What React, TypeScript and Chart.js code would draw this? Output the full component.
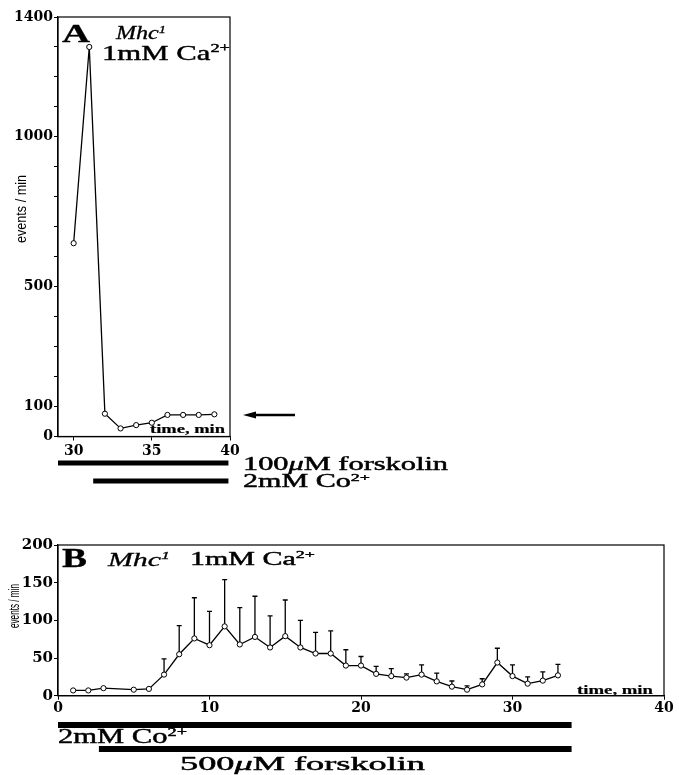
import React, { useEffect, useRef } from 'react';
import { Chart, registerables } from 'chart.js';

Chart.register(...registerables);

// ---------- Panel A data ----------
const A_TIME = [30, 31, 32, 33, 34, 35, 36, 37, 38, 39];
const A_EVENTS = [645, 1300, 76, 27, 38, 46, 72, 72, 72, 74];
const A_Y_TICKS = [0, 100, 200, 300, 400, 500, 600, 700, 800, 900, 1000, 1100, 1200, 1300, 1400];
const A_Y_LABELS = [0, 100, 500, 1000, 1400];
const A_X_TICKS = [30, 35, 40];
const A_ARROW_LEVEL = 72;
const A_FORSKOLIN = [29, 39.9];
const A_COBALT = [31.25, 39.9];

// ---------- Panel B data ----------
const B_TIME = [1, 2, 3, 5, 6, 7, 8, 9, 10, 11, 12, 13, 14, 15, 16, 17, 18, 19, 20, 21, 22, 23, 24, 25, 26, 27, 28, 29, 30, 31, 32, 33];
const B_EVENTS = [7, 7, 10, 8, 9, 28, 55, 76, 67, 92, 68, 78, 64, 79, 64, 56, 56, 40, 40, 29, 26, 24, 28, 19, 12, 8, 15, 44, 26, 16, 20, 27];
const B_SEM = [0, 0, 0, 0, 0, 21, 38, 54, 45, 62, 49, 54, 42, 48, 36, 28, 30, 21, 12, 10, 10, 5, 13, 11, 7.5, 5, 7.5, 19, 15, 9, 11.5, 14.5];
const B_Y_TICKS = [0, 50, 100, 150, 200];
const B_X_TICKS = [0, 10, 20, 30, 40];
const B_COBALT = [0, 33.9];
const B_FORSKOLIN = [2.7, 33.9];

const W = 679;
const H = 775;
const SERIF = 'DejaVu Serif';
const TEXT_SERIF = 'Liberation Serif';

type Seg = { t: string; italic?: boolean; bold?: boolean; sup?: boolean };

function drawRich(ctx: CanvasRenderingContext2D, segs: Seg[], x: number, baseline: number, size: number, targetW: number, heavy = 0.45) {
  const parts = segs.map((s) => {
    const fs = s.sup ? size * 0.6 : size;
    const font = `${s.italic ? 'italic ' : ''}${s.bold ? 'bold ' : ''}${fs}px "${TEXT_SERIF}", serif`;
    ctx.font = font;
    return { s, font, w: ctx.measureText(s.t).width, dy: s.sup ? -size * 0.36 : 0 };
  });
  const total = parts.reduce((a, p) => a + p.w, 0);
  const sx = targetW / total;
  ctx.save();
  ctx.translate(x, baseline);
  ctx.scale(sx, 1);
  ctx.textAlign = 'left';
  ctx.textBaseline = 'alphabetic';
  ctx.fillStyle = '#000';
  ctx.strokeStyle = '#000';
  ctx.lineWidth = heavy;
  ctx.lineJoin = 'round';
  let cx = 0;
  for (const p of parts) {
    ctx.font = p.font;
    ctx.fillText(p.s.t, cx, p.dy);
    if (heavy > 0) ctx.strokeText(p.s.t, cx, p.dy);
    cx += p.w;
  }
  ctx.restore();
}

function drawVerticalTitle(ctx: CanvasRenderingContext2D, text: string, cx: number, cy: number, size: number, length: number) {
  ctx.save();
  ctx.font = `${size}px "Liberation Sans Narrow", "Liberation Sans", sans-serif`;
  const w = ctx.measureText(text).width;
  ctx.translate(cx, cy);
  ctx.rotate(-Math.PI / 2);
  ctx.scale(length / w, 1);
  ctx.textAlign = 'center';
  ctx.textBaseline = 'middle';
  ctx.fillStyle = '#000';
  ctx.fillText(text, 0, 0);
  ctx.restore();
}

function drawRange(chart: any, range: number[], y: number, th: number) {
  const xs = chart.scales.x;
  const x1 = xs.getPixelForValue(range[0]);
  const x2 = xs.getPixelForValue(range[1]);
  chart.ctx.fillStyle = '#000';
  chart.ctx.fillRect(x1, y - th / 2, x2 - x1, th);
}

function frame(chart: any) {
  const { ctx, chartArea: a } = chart;
  ctx.save();
  ctx.strokeStyle = '#000';
  ctx.lineWidth = 1.2;
  ctx.strokeRect(a.left, a.top, a.right - a.left, a.bottom - a.top);
  ctx.restore();
}

const overlayA = {
  id: 'overlayA',
  afterDraw(chart: any) {
    const { ctx, chartArea: a } = chart;
    frame(chart);
    drawVerticalTitle(ctx, 'events / min', 22, 209, 15, 68);
    drawRich(ctx, [{ t: 'A', bold: true }], 62, 42, 25, 28, 0.3);
    drawRich(ctx, [{ t: 'Mhc', italic: true }, { t: '1', italic: true, sup: true }], 116, 39, 18, 50, 0.3);
    drawRich(ctx, [{ t: '1mM Ca' }, { t: '2+', sup: true }], 102, 60, 22, 128);
    drawRich(ctx, [{ t: 'time, min', bold: true }], 150, 433, 13, 75, 0.2);
    // arrow
    const ya = chart.scales.y.getPixelForValue(A_ARROW_LEVEL);
    const x0 = a.right + 13;
    const x1 = a.right + 65;
    ctx.save();
    ctx.fillStyle = '#000';
    ctx.strokeStyle = '#000';
    ctx.lineWidth = 2.5;
    ctx.beginPath();
    ctx.moveTo(x0 + 10, ya);
    ctx.lineTo(x1, ya);
    ctx.stroke();
    ctx.beginPath();
    ctx.moveTo(x0, ya);
    ctx.lineTo(x0 + 13, ya - 3.5);
    ctx.lineTo(x0 + 13, ya + 3.5);
    ctx.closePath();
    ctx.fill();
    ctx.restore();
    // treatment bars
    drawRange(chart, A_FORSKOLIN, a.bottom + 26.5, 5);
    drawRange(chart, A_COBALT, a.bottom + 44.5, 5);
    drawRich(ctx, [{ t: '100' }, { t: 'μ', italic: true }, { t: 'M forskolin' }], 243, 470, 18, 205);
    drawRich(ctx, [{ t: '2mM Co' }, { t: '2+', sup: true }], 243, 487, 18, 127);
  },
};

const errorBarsB = {
  id: 'errorBarsB',
  beforeDatasetsDraw(chart: any) {
    const { ctx } = chart;
    const xs = chart.scales.x;
    const ys = chart.scales.y;
    ctx.save();
    ctx.strokeStyle = '#000';
    ctx.lineWidth = 1.3;
    B_TIME.forEach((t, i) => {
      const e = B_SEM[i];
      if (!e) return;
      const px = xs.getPixelForValue(t);
      const py = ys.getPixelForValue(B_EVENTS[i]);
      const pt = ys.getPixelForValue(B_EVENTS[i] + e);
      ctx.beginPath();
      ctx.moveTo(px, py);
      ctx.lineTo(px, pt);
      ctx.moveTo(px - 2.5, pt);
      ctx.lineTo(px + 2.5, pt);
      ctx.stroke();
    });
    ctx.restore();
  },
};

const overlayB = {
  id: 'overlayB',
  afterDraw(chart: any) {
    const { ctx, chartArea: a } = chart;
    frame(chart);
    drawVerticalTitle(ctx, 'events / min', 15, 606, 14, 44);
    drawRich(ctx, [{ t: 'B', bold: true }], 62, 567, 28, 25, 0.3);
    drawRich(ctx, [{ t: 'Mhc', italic: true }, { t: '1', italic: true, sup: true }], 108, 566, 19, 62, 0.3);
    drawRich(ctx, [{ t: '1mM Ca' }, { t: '2+', sup: true }], 190, 565, 19, 125);
    drawRich(ctx, [{ t: 'time, min', bold: true }], 577, 694, 13, 76, 0.2);
    drawRange(chart, B_COBALT, a.bottom + 29.3, 6);
    drawRange(chart, B_FORSKOLIN, a.bottom + 53.3, 6);
    drawRich(ctx, [{ t: '2mM Co' }, { t: '2+', sup: true }], 58, 743, 20, 129);
    drawRich(ctx, [{ t: '500' }, { t: 'μ', italic: true }, { t: 'M forskolin' }], 180, 770, 19, 245);
  },
};

function axisCommon(fontSize: number) {
  return {
    grid: { drawOnChartArea: false, drawTicks: true, tickLength: 4, color: '#000', lineWidth: 1 },
    border: { display: true, color: '#000', width: 1.2 },
    ticks: {
      color: '#000',
      font: { family: SERIF, size: fontSize, weight: 'bold' as const },
      autoSkip: false,
      maxRotation: 0,
      minRotation: 0,
    },
  };
}

export default function App() {
  const refA = useRef<HTMLCanvasElement>(null);
  const refB = useRef<HTMLCanvasElement>(null);

  useEffect(() => {
    const ax = axisCommon(14);
    const ay = axisCommon(14);
    const chartA = new Chart(refA.current!, {
      type: 'line',
      data: {
        datasets: [
          {
            data: A_TIME.map((t, i) => ({ x: t, y: A_EVENTS[i] })),
            borderColor: '#000',
            borderWidth: 1.3,
            pointRadius: 2.6,
            pointBackgroundColor: '#fff',
            pointBorderColor: '#000',
            pointBorderWidth: 1,
            tension: 0,
            fill: false,
          },
        ],
      },
      options: {
        animation: false,
        responsive: false,
        maintainAspectRatio: false,
        layout: { padding: { left: 0, top: 17, right: W - 230, bottom: H - 436.5 - 30 } },
        plugins: { legend: { display: false }, tooltip: { enabled: false }, title: { display: false } },
        scales: {
          x: {
            type: 'linear',
            min: 29,
            max: 40,
            ...ax,
            ticks: { ...ax.ticks, padding: 2, callback: (v: any) => String(v) },
            afterBuildTicks: (s: any) => {
              s.ticks = A_X_TICKS.map((v) => ({ value: v }));
            },
            afterFit: (s: any) => {
              s.height = 30;
            },
          },
          y: {
            type: 'linear',
            min: 0,
            max: 1400,
            ...ay,
            ticks: {
              ...ay.ticks,
              padding: 1,
              callback: (v: any) => (A_Y_LABELS.includes(Number(v)) ? String(v) : ''),
            },
            afterBuildTicks: (s: any) => {
              s.ticks = A_Y_TICKS.map((v) => ({ value: v }));
            },
            afterFit: (s: any) => {
              s.width = 58;
            },
          },
        },
      },
      plugins: [overlayA],
    } as any);

    const bx = axisCommon(14);
    const by = axisCommon(15);
    const chartB = new Chart(refB.current!, {
      type: 'line',
      data: {
        datasets: [
          {
            data: B_TIME.map((t, i) => ({ x: t, y: B_EVENTS[i] })),
            borderColor: '#000',
            borderWidth: 1.3,
            pointRadius: 2.6,
            pointBackgroundColor: '#fff',
            pointBorderColor: '#000',
            pointBorderWidth: 1,
            tension: 0,
            fill: false,
          },
        ],
      },
      options: {
        animation: false,
        responsive: false,
        maintainAspectRatio: false,
        layout: { padding: { left: 0, top: 545, right: W - 664, bottom: H - 695.7 - 30 } },
        plugins: { legend: { display: false }, tooltip: { enabled: false }, title: { display: false } },
        scales: {
          x: {
            type: 'linear',
            min: 0,
            max: 40,
            ...bx,
            ticks: { ...bx.ticks, padding: 0, callback: (v: any) => String(v) },
            afterBuildTicks: (s: any) => {
              s.ticks = B_X_TICKS.map((v) => ({ value: v }));
            },
            afterFit: (s: any) => {
              s.height = 30;
            },
          },
          y: {
            type: 'linear',
            min: 0,
            max: 200,
            ...by,
            ticks: { ...by.ticks, padding: 1, callback: (v: any) => String(v) },
            afterBuildTicks: (s: any) => {
              s.ticks = B_Y_TICKS.map((v) => ({ value: v }));
            },
            afterFit: (s: any) => {
              s.width = 58;
            },
          },
        },
      },
      plugins: [errorBarsB, overlayB],
    } as any);

    return () => {
      chartA.destroy();
      chartB.destroy();
    };
  }, []);

  const canvasStyle: React.CSSProperties = { position: 'absolute', left: 0, top: 0, width: W, height: H };
  return (
    <div style={{ position: 'absolute', left: 0, top: 0, width: W, height: H, background: '#fff' }}>
      <canvas ref={refA} width={W} height={H} style={canvasStyle} />
      <canvas ref={refB} width={W} height={H} style={canvasStyle} />
    </div>
  );
}
